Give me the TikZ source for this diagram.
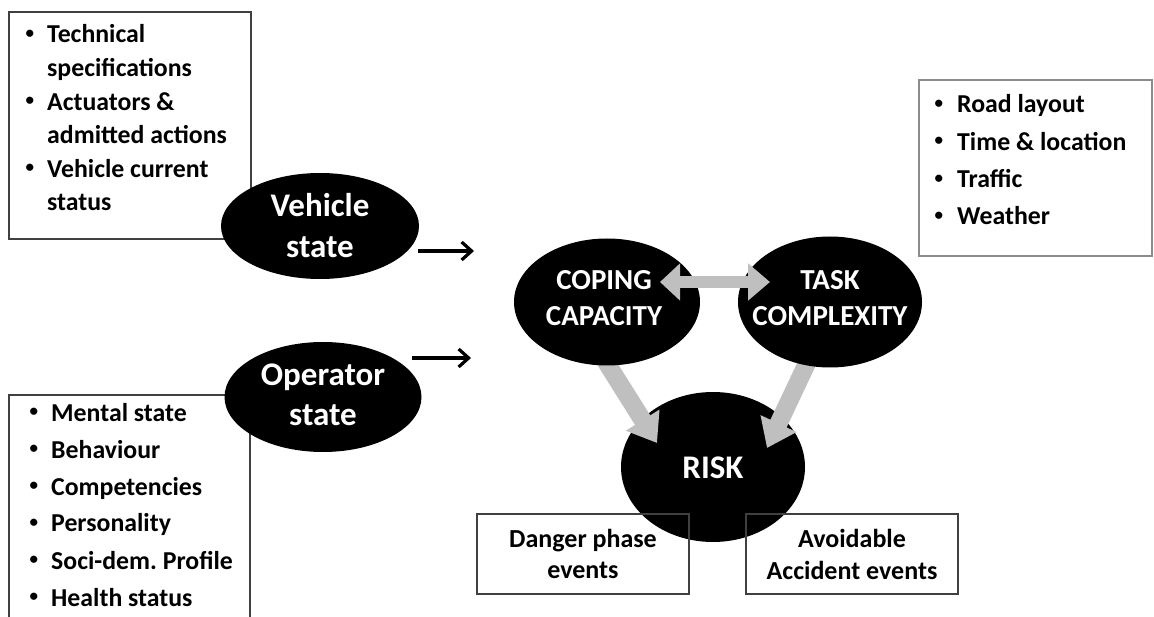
\documentclass[tikz,border=0pt]{standalone}
\usepackage{fontspec}
\setmainfont{Carlito}
\usetikzlibrary{shapes.geometric,arrows.meta,backgrounds}
\definecolor{boxdark}{HTML}{404040}
\definecolor{boxlight}{HTML}{8C8C8C}
\definecolor{fatgray}{HTML}{BFBFBF}
\frenchspacing
\newcommand{\smallbul}{\raisebox{4.5pt}{\fontsize{17}{17}\selectfont\textbullet}}
\newcommand{\bulA}{\makebox[23pt][l]{\hspace{1.5pt}\smallbul}}
\newcommand{\bulB}{\makebox[24pt][l]{\hspace{2.5pt}\smallbul}}
\newcommand{\bulC}{\makebox[25pt][l]{\hspace{2.5pt}\smallbul}}
\begin{document}
\begin{tikzpicture}[x=1pt,y=-1pt,
  blob/.style={ellipse,fill=black,draw=none,inner sep=0pt},
  blobtext/.style={text=white,align=center,inner sep=0pt},
  listframe/.style={rectangle,draw=boxdark,line width=1.3pt,inner sep=0pt},
  listtext/.style={inner sep=0pt,anchor=base west,font={\fontsize{25.8}{33.6}\selectfont\bfseries}},
  eventbox/.style={rectangle,draw=boxdark,line width=1.3pt,inner sep=0pt,align=center,
     minimum width=212pt,minimum height=80pt,font={\fontsize{26}{31}\selectfont\bfseries}},
  fatarrow/.style={draw=fatgray,line width=18pt,-{Triangle[width=38pt,length=27pt]},fatgray},
  thinarrow/.style={draw=black,line width=3.2pt,-{Straight Barb[length=10pt,width=18pt]}}
]
\useasboundingbox (0,0) rectangle (1154,617);

% frames
\node[listframe,minimum width=242pt,minimum height=227pt] (vframe) at (130,125.5) {};
\node[listframe,minimum width=241pt,minimum height=245pt] (oframe) at (129.5,517.5) {};
\node[listframe,draw=boxlight,line width=1.6pt,minimum width=233pt,minimum height=176pt] (eframe) at (1035.5,168) {};

% lists
\node[listtext] (vlist) at (24,43) {\begin{tabular}[t]{@{}l@{}l@{}}
\bulA & Technical\\ & specifications\\ \bulA & Actuators \&\\ & admitted actions\\ \bulA & Vehicle current\\ & status\end{tabular}};
\node[listtext,font={\fontsize{25.8}{37}\selectfont\bfseries}] (olist) at (27,421) {\begin{tabular}[t]{@{}l@{}l@{}}
\bulB & Mental state\\ \bulB & Behaviour\\ \bulB & Competencies\\ \bulB & Personality\\ \bulB & Soci-dem. Profile\\ \bulB & Health status\end{tabular}};
\node[listtext,font={\fontsize{25.8}{37.3}\selectfont\bfseries}] (elist) at (932,113) {\begin{tabular}[t]{@{}l@{}l@{}}
\bulC & Road layout\\ \bulC & Time \& location\\ \bulC & Traffic\\ \bulC & Weather\end{tabular}};

% state ellipses
\node[blob,minimum width=198pt,minimum height=106pt] (vs) at (320,226) {};
\node[blobtext,font={\fontsize{33}{41}\selectfont\bfseries}] (vsT) at (320,226) {Vehicle\\state};
\node[blob,minimum width=197pt,minimum height=110pt] (os) at (323,397) {};
\node[blobtext,font={\fontsize{33}{40}\selectfont\bfseries}] (osT) at (323,395) {Operator\\state};

% thin arrows
\coordinate (a1s) at (418,251);
\coordinate (a1e) at (474,251);
\coordinate (a2s) at (412,358);
\coordinate (a2e) at (471,358);
\draw[thinarrow] (a1s) -- (a1e);
\draw[thinarrow] (a2s) -- (a2e);

% core ellipses
\node[blob,minimum width=186pt,minimum height=127pt] (cc) at (607,302) {};
\node[blobtext,font={\fontsize{29}{36}\selectfont\bfseries}] (ccT) at (604,298) {COPING\\CAPACITY};
\node[blob,minimum width=184pt,minimum height=131pt] (tc) at (830,302) {};
\node[blobtext,font={\fontsize{29}{36}\selectfont\bfseries}] (tcT) at (830,298) {TASK\\COMPLEXITY};

\begin{scope}[on background layer]
\node[blob,minimum width=184pt,minimum height=150pt] (rk) at (713,467) {};
\coordinate (d1s) at (586,330);
\coordinate (d1e) at (657,443);
\coordinate (d2s) at (824,327);
\coordinate (d2e) at (767,448);
\draw[fatarrow] (d1s) -- (d1e);
\draw[fatarrow] (d2s) -- (d2e);
\end{scope}
\node[blobtext,font={\fontsize{33}{38}\selectfont\bfseries}] (rkT) at (713,468) {RISK};

% double arrow
\coordinate (h1) at (660,282);
\coordinate (h2) at (770,282);
\draw[draw=fatgray,line width=12pt,{Triangle[width=36pt,length=20pt]}-{Triangle[width=36pt,length=22pt]},fatgray] (h1) -- (h2);

% event boxes
\node[eventbox] (dp) at (583,554) {Danger phase\\events};
\node[eventbox,font={\fontsize{26}{32}\selectfont\bfseries}] (ae) at (852,554) {Avoidable\\Accident events};
\end{tikzpicture}
\end{document}
